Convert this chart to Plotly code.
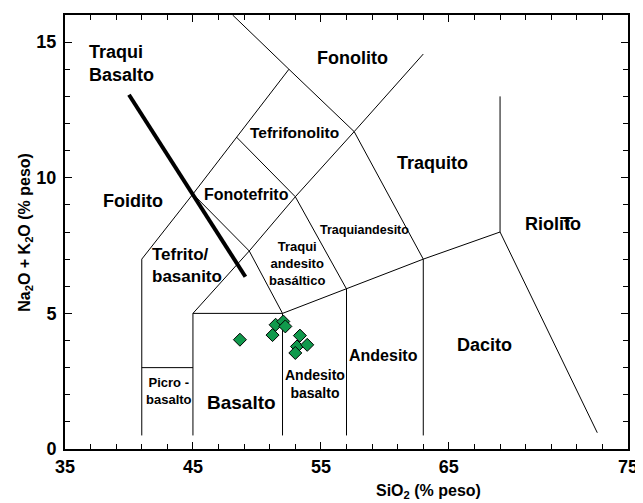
import plotly.graph_objects as go

# ---- data ----
sample_sio2 = [48.67, 51.22, 51.46, 52.06, 52.22, 53.36, 53.13, 53.93, 53.0]
sample_alk = [4.03, 4.20, 4.58, 4.70, 4.52, 4.18, 3.78, 3.84, 3.54]

# TAS field boundaries (SiO2, Na2O+K2O)
boundary_1 = [(41, 0.5), (41, 7), (45, 9.4), (49.4, 7.3), (52, 5), (52, 0.5)]
boundary_2 = [(41, 3), (45, 3)]
boundary_3 = [(45, 0.5), (45, 5), (52, 5), (57, 5.9), (63, 7), (69, 8), (76.6, 0.6)]
boundary_4 = [(45, 5), (49.4, 7.3), (53, 9.3), (57.6, 11.7), (63, 14.56)]
boundary_5 = [(45, 9.4), (48.4, 11.5), (52.5, 14), (48.1, 16)]
boundary_6 = [(48.4, 11.5), (53, 9.3), (57, 5.9), (57, 0.5)]
boundary_7 = [(52.5, 14), (57.6, 11.7), (63, 7), (63, 0.5)]
boundary_8 = [(69, 8), (69, 13)]
boundaries = [boundary_1, boundary_2, boundary_3, boundary_4, boundary_5,
              boundary_6, boundary_7, boundary_8]

arrow_line = [(40.0, 13.06), (49.1, 6.35)]

# field labels: text, x, y, size
field_labels = [
    ("Traqui<br>Basalto", 39.4, 14.22, 18),
    ("Fonolito", 57.5, 14.4, 18),
    ("Tefrifonolito", 52.9, 11.66, 15.5),
    ("Fonotefrito", 49.2, 9.38, 16),
    ("Foidito", 40.3, 9.16, 18),
    ("Traquito", 63.75, 10.56, 18),
    ("Traquiandesito", 58.4, 8.06, 12.5),
    ("Traqui<br>andesito<br>basáltico", 53.1, 6.85, 13),
    ("Tefrito/<br>basanito", 44.5, 6.75, 17),
    ("Riolito", 73.1, 8.28, 18),
    ("T", 74.25, 8.28, 18),
    ("Andesito", 59.9, 3.46, 16),
    ("Dacito", 67.8, 3.83, 18),
    ("Andesito<br>basalto", 54.5, 2.4, 14),
    ("Basalto", 48.8, 1.7, 19),
    ("Picro -<br>basalto", 43.1, 2.14, 13),
]

x_tickvals = [35, 45, 55, 65, 79]
x_ticktext = ["35", "45", "55", "65", "75"]
y_tickvals = [0, 5, 10, 15]
y_ticktext = ["0", "5", "10", "15"]

FONT = "Liberation Sans, Arial, sans-serif"

fig = go.Figure()

bx, by = [], []
for seg in boundaries:
    for (a, b) in seg:
        bx.append(a)
        by.append(b)
    bx.append(None)
    by.append(None)

fig.add_trace(go.Scatter(x=bx, y=by, mode="lines",
                         line=dict(color="black", width=1),
                         hoverinfo="skip", showlegend=False))

fig.add_trace(go.Scatter(x=[p[0] for p in arrow_line], y=[p[1] for p in arrow_line],
                         mode="lines", line=dict(color="black", width=4),
                         hoverinfo="skip", showlegend=False))

fig.add_trace(go.Scatter(x=sample_sio2, y=sample_alk, mode="markers",
                         marker=dict(symbol="diamond", size=10, color="#10994c",
                                     line=dict(color="black", width=1)),
                         showlegend=False))

for text, x, y, size in field_labels:
    left = text.startswith("Traqui<br>B") or text.startswith("Tefrito")
    fig.add_annotation(x=x, y=y, text=text, showarrow=False,
                       font=dict(family=FONT, size=size, color="black", weight="bold"),
                       align="left" if left else "center")

fig.add_annotation(xref="paper", yref="paper", x=0.645, y=-0.071, yanchor="top",
                   text="SiO<sub>2</sub> (% peso)", showarrow=False,
                   font=dict(family=FONT, size=16, color="black", weight="bold"))
fig.add_annotation(xref="paper", yref="paper", x=-0.051, y=0.5, xanchor="right",
                   text="Na<sub>2</sub>O + K<sub>2</sub>O (% peso)", showarrow=False,
                   textangle=-90,
                   font=dict(family=FONT, size=16, color="black", weight="bold"))

fig.update_xaxes(range=[35, 79], tickmode="array", tickvals=x_tickvals, ticktext=x_ticktext,
                 ticks="inside", ticklen=7, tickwidth=1, tickcolor="black",
                 minor=dict(tick0=35, dtick=2, ticks="inside", ticklen=5, tickcolor="black"),
                 showline=True, linecolor="black", linewidth=2, mirror="ticks",
                 showgrid=False, zeroline=False, ticklabelstandoff=0, automargin=False,
                 tickfont=dict(family=FONT, size=18, color="black", weight="bold"))
fig.update_yaxes(range=[0, 16], tickmode="array", tickvals=y_tickvals, ticktext=y_ticktext,
                 ticks="inside", ticklen=7, tickwidth=1, tickcolor="black",
                 minor=dict(tick0=0, dtick=1, ticks="inside", ticklen=5, tickcolor="black"),
                 showline=True, linecolor="black", linewidth=2, mirror="ticks",
                 showgrid=False, zeroline=False, ticklabelstandoff=3, automargin=False,
                 tickfont=dict(family=FONT, size=18, color="black", weight="bold"))

fig.update_layout(width=635, height=495,
                  margin=dict(l=57, r=15, t=7, b=54, autoexpand=False),
                  paper_bgcolor="white", plot_bgcolor="white")

fig.write_html("out.html")
